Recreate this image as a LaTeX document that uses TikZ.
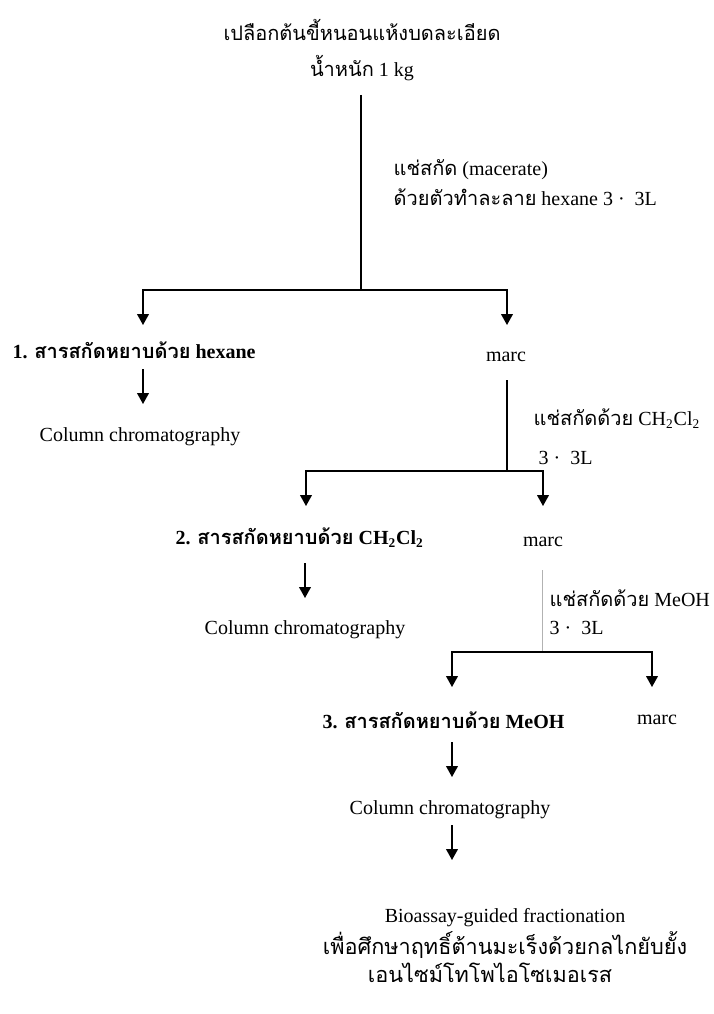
\documentclass[tikz,border=0pt]{standalone}
\usepackage{fontspec}
\setmainfont{Liberation Serif}
\newfontfamily\thai[Script=Thai]{Loma}
\usetikzlibrary{arrows.meta}

\begin{document}
\begin{tikzpicture}
            [x=0.6pt,y=-0.6pt,thick,>={Triangle[width=7pt,length=6.5pt]},
             every node/.style={inner sep=0pt,font=\fontsize{12}{14}\selectfont}]
            \useasboundingbox (0,0) rectangle (713,1014);

            % raw material
            \node (T1) at (362,30) {\thai เปลือกต้นขี้หนอนแห้งบดละเอียด};
            \node (T2) at (362,68) {{\thai น้ำหนัก} 1 kg};
            \node[anchor=west] (M1) at (393,170) {{\thai แช่สกัด} (macerate)};
            \node[anchor=west] (M2) at (393,197) {{\thai ด้วยตัวทำละลาย} hexane 3 ·\ \ 3L};

            % hexane step
            \node[anchor=west] (E1) at (12,350) {\bfseries 1. {\thai สารสกัดหยาบด้วย} hexane};
            \node (R1) at (506,357) {marc};
            \node (C1) at (140,437) {Column chromatography};
            \node[anchor=west] (N1) at (533,419) {{\thai แช่สกัดด้วย} CH\textsubscript{2}Cl\textsubscript{2}};
            \node[anchor=west] (N2) at (538,458) {3 ·\ \ 3L};

            % CH2Cl2 step
            \node[anchor=west] (E2) at (175,538) {\bfseries 2. {\thai สารสกัดหยาบด้วย} CH\textsubscript{2}Cl\textsubscript{2}};
            \node (R2) at (543,542) {marc};
            \node (C2) at (305,630) {Column chromatography};
            \node[anchor=west] (N3) at (549,598) {{\thai แช่สกัดด้วย} MeOH};
            \node[anchor=west] (N4) at (549,628) {3 ·\ \ 3L};

            % MeOH step
            \node[anchor=west] (E3) at (322,720) {\bfseries 3. {\thai สารสกัดหยาบด้วย} MeOH};
            \node (R3) at (657,720) {marc};
            \node (C3) at (450,810) {Column chromatography};
            \node (B1) at (505,918) {Bioassay-guided fractionation};
            \node[font=\fontsize{13}{15}\selectfont] (B2) at (505,945) {\thai เพื่อศึกษาฤทธิ์ต้านมะเร็งด้วยกลไกยับยั้ง};
            \node[font=\fontsize{13}{15}\selectfont] (B3) at (490,973) {\thai เอนไซม์โทโพไอโซเมอเรส};

            % junctions and arrow ends
            \coordinate (S1) at (361,95);
            \coordinate (J1) at (361,290);
            \coordinate (A1) at (143,325);
            \coordinate (A2) at (507,325);
            \coordinate (S2) at (507,380);
            \coordinate (J2) at (507,471);
            \coordinate (A3) at (306,506);
            \coordinate (A4) at (543,506);
            \coordinate (S3) at (542,570);
            \coordinate (J3) at (542,652);
            \coordinate (A5) at (452,687);
            \coordinate (A6) at (652,687);

            % split lines
            \draw (S1) -- (J1);
            \draw[->] (J1) -| (A1);
            \draw[->] (J1) -| (A2);
            \draw (S2) -- (J2);
            \draw[->] (J2) -| (A3);
            \draw[->] (J2) -| (A4);
            \draw[gray!60,thin] (S3) -- (J3);
            \draw[->] (J3) -| (A5);
            \draw[->] (J3) -| (A6);

            % down arrows
            \draw[->] (143,369) -- (143,404);
            \draw[->] (305,563) -- (305,598);
            \draw[->] (452,742) -- (452,777);
            \draw[->] (452,825) -- (452,860);
        \end{tikzpicture}
\end{document}
